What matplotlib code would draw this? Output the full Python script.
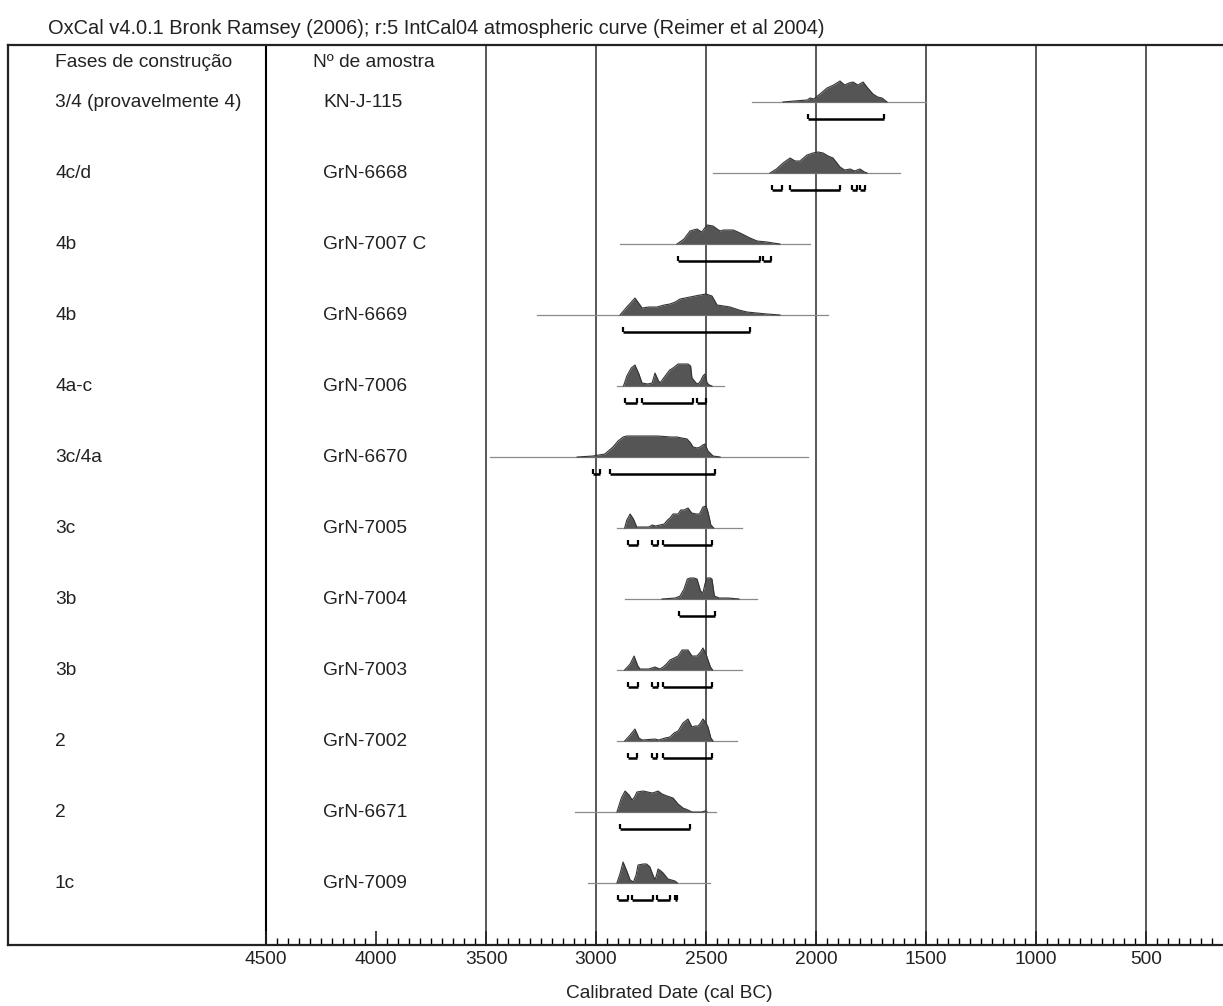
import matplotlib
matplotlib.use("Agg")
import matplotlib.pyplot as plt
import matplotlib.transforms as mtransforms
from matplotlib.ticker import FixedLocator

plt.rcParams['font.family'] = ['Liberation Sans', 'DejaVu Sans']

# labels of each row
phases = ["3/4 (provavelmente 4)", "4c/d", "4b", "4b", "4a-c", "3c/4a",
          "3c", "3b", "3b", "2", "2", "1c"]
samples = ["KN-J-115", "GrN-6668", "GrN-7007 C", "GrN-6669", "GrN-7006",
           "GrN-6670", "GrN-7005", "GrN-7004", "GrN-7003", "GrN-7002",
           "GrN-6671", "GrN-7009"]

# calibrated probability curves (cal BC, relative probability)
dates_1 = [2150, 2100, 2040, 2027, 2010, 1982, 1950, 1920, 1891, 1870, 1850, 1832,
           1810, 1786, 1765, 1741, 1720, 1700, 1677]
dens_1 = [0, 1, 2, 4, 3, 8, 14, 17, 21, 17, 19, 20, 17, 20, 14, 8, 5, 4, 0]

dates_2 = [2209, 2180, 2150, 2118, 2095, 2073, 2041, 2014, 1990, 1968, 1945, 1923,
           1905, 1891, 1870, 1845, 1825, 1800, 1780, 1768]
dens_2 = [0, 4, 10, 15, 12, 12, 18, 20, 21, 20, 17, 15, 10, 6, 3, 4, 2, 4, 1, 0]

dates_3 = [2632, 2600, 2573, 2541, 2520, 2495, 2468, 2450, 2436, 2420, 2405, 2377,
           2355, 2336, 2300, 2268, 2223, 2195, 2164]
dens_3 = [0, 5, 13, 15, 12, 19, 18, 15, 13, 14, 14, 14, 12, 10, 6, 3, 2, 1, 0]

dates_4 = [2891, 2860, 2823, 2800, 2791, 2760, 2723, 2690, 2664, 2640, 2618, 2595,
           2573, 2550, 2527, 2500, 2473, 2460, 2450, 2420, 2391, 2350, 2314, 2270,
           2223, 2164]
dens_4 = [0, 8, 17, 10, 7, 8, 8, 10, 11, 13, 16, 17, 18, 19, 20, 21, 19, 14, 10, 9,
          8, 5, 3, 2, 1, 0]

dates_5 = [2875, 2860, 2840, 2823, 2805, 2791, 2765, 2745, 2732, 2718, 2709, 2686,
           2665, 2650, 2627, 2600, 2582, 2570, 2564, 2545, 2536, 2525, 2514, 2505,
           2495, 2485, 2473]
dens_5 = [0, 10, 18, 21, 12, 3, 2, 3, 13, 6, 3, 10, 16, 18, 22, 22, 22, 20, 8, 3, 2,
          5, 10, 12, 3, 1, 0]

dates_6 = [3086, 3014, 2960, 2923, 2900, 2877, 2860, 2832, 2780, 2720, 2660, 2632,
           2610, 2586, 2570, 2559, 2540, 2527, 2515, 2505, 2491, 2468, 2436]
dens_6 = [0, 1, 3, 10, 16, 20, 21, 21, 21, 21, 20, 20, 19, 18, 14, 10, 9, 10, 12, 13,
          6, 1, 0]

dates_7 = [2870, 2860, 2845, 2830, 2815, 2790, 2760, 2745, 2730, 2710, 2690, 2675,
           2664, 2650, 2627, 2615, 2600, 2582, 2565, 2545, 2530, 2514, 2500, 2491,
           2478, 2465]
dens_7 = [0, 8, 14, 9, 1, 1, 1, 3, 2, 3, 4, 8, 10, 14, 14, 18, 18, 20, 15, 14, 14, 21,
          22, 16, 3, 0]

dates_8 = [2700, 2640, 2618, 2600, 2585, 2573, 2555, 2541, 2525, 2514, 2505, 2495,
           2480, 2473, 2462, 2440, 2400, 2350]
dens_8 = [0, 1, 3, 10, 20, 21, 21, 20, 8, 6, 15, 21, 21, 20, 3, 1, 1, 0]

dates_9 = [2870, 2845, 2827, 2810, 2800, 2760, 2732, 2710, 2695, 2680, 2664, 2645,
           2627, 2609, 2595, 2582, 2564, 2541, 2525, 2514, 2500, 2491, 2480, 2470]
dens_9 = [0, 6, 14, 4, 1, 1, 3, 1, 3, 6, 10, 12, 14, 20, 20, 20, 14, 14, 18, 22, 16,
          10, 3, 0]

dates_10 = [2870, 2845, 2823, 2805, 2790, 2732, 2715, 2686, 2664, 2645, 2627, 2605,
            2582, 2564, 2550, 2536, 2525, 2514, 2500, 2491, 2478, 2468]
dens_10 = [0, 6, 12, 3, 1, 2, 1, 3, 4, 8, 10, 18, 22, 14, 15, 15, 18, 22, 18, 14, 3, 0]

dates_11 = [2905, 2885, 2868, 2850, 2836, 2825, 2814, 2786, 2765, 2745, 2730, 2718,
            2700, 2677, 2650, 2627, 2605, 2582, 2564, 2540, 2520, 2505, 2495]
dens_11 = [0, 14, 21, 17, 12, 15, 20, 21, 20, 19, 20, 21, 18, 16, 14, 8, 4, 2, 0, 0,
           0, 1, 0]

dates_12 = [2905, 2890, 2877, 2860, 2845, 2830, 2818, 2809, 2786, 2770, 2755, 2745,
            2732, 2725, 2718, 2705, 2695, 2673, 2641, 2630]
dens_12 = [0, 10, 21, 12, 3, 1, 8, 18, 19, 19, 16, 10, 3, 8, 14, 12, 10, 4, 2, 0]

all_dates = [dates_1, dates_2, dates_3, dates_4, dates_5, dates_6,
             dates_7, dates_8, dates_9, dates_10, dates_11, dates_12]
all_dens = [dens_1, dens_2, dens_3, dens_4, dens_5, dens_6,
            dens_7, dens_8, dens_9, dens_10, dens_11, dens_12]

# extent of the plotted likelihood (thin line)
extents = [(2290, 1500), (2468, 1618), (2891, 2027), (3268, 1945), (2905, 2420),
           (3482, 2036), (2905, 2336), (2868, 2268), (2905, 2336), (2905, 2360),
           (3095, 2455), (3036, 2482)]

# 95.4% ranges
ranges = [
    [(2036, 1691)],
    [(2200, 2155), (2118, 1891), (1836, 1814), (1800, 1777)],
    [(2627, 2255), (2241, 2205)],
    [(2877, 2300)],
    [(2868, 2815), (2790, 2560), (2540, 2500)],
    [(3014, 2982), (2936, 2459)],
    [(2855, 2809), (2745, 2718), (2695, 2473)],
    [(2623, 2459)],
    [(2855, 2809), (2745, 2718), (2695, 2473)],
    [(2855, 2814), (2745, 2723), (2695, 2473)],
    [(2891, 2573)],
    [(2900, 2855), (2836, 2741), (2723, 2664), (2641, 2632)],
]

grid_dates = [4500, 3500, 3000, 2500, 2000, 1500, 1000, 500]
tick_dates = [4500, 4000, 3500, 3000, 2500, 2000, 1500, 1000, 500]

W, H = 1223, 1006
fig = plt.figure(figsize=(W / 100, H / 100), dpi=100)
ax = fig.add_axes([8 / W, (H - 945) / H, (W - 8) / W, 900 / H])
ax.set_xlim(5673, 150)
ax.set_ylim(11.873, -0.803)

dens_scale = 1 / 71
bar_off = 0.235
cap = 0.065

for i in range(len(samples)):
    ax.plot(extents[i], [i, i], color='#8a8a8a', lw=0.9, zorder=2)
    top = [i - d * dens_scale for d in all_dens[i]]
    ax.fill_between(all_dates[i], i, top, color='#555555', lw=0, zorder=3)
    ax.plot(all_dates[i], top, color='#333333', lw=0.8, zorder=4)
    yb = i + bar_off
    for a, b in ranges[i]:
        ax.plot([a, b], [yb, yb], color='black', lw=1.8, zorder=4,
                solid_capstyle='butt')
        ax.vlines([a, b], yb - cap, yb, color='black', lw=1.6, zorder=4)

for g in grid_dates:
    if g == 4500:
        ax.axvline(g, color='black', lw=1.5, zorder=1)
    else:
        ax.axvline(g, color='#4a4a4a', lw=1.3, zorder=1)

tr = mtransforms.blended_transform_factory(ax.transAxes, ax.transData)
fs = 13.8
ax.text(47 / 1215, -0.56, "Fases de construção", transform=tr, fontsize=fs,
        va='center', ha='left', color='#222222')
ax.text(305 / 1215, -0.56, "Nº de amostra", transform=tr, fontsize=fs,
        va='center', ha='left', color='#222222')
for i in range(len(samples)):
    ax.text(47 / 1215, i, phases[i], transform=tr, fontsize=fs,
            va='center', ha='left', color='#222222')
    ax.text(315 / 1215, i, samples[i], transform=tr, fontsize=fs,
            va='center', ha='left', color='#222222')

ax.xaxis.set_major_locator(FixedLocator(tick_dates))
ax.xaxis.set_minor_locator(FixedLocator(list(range(4500, 150, -50))))
ax.set_xticklabels([str(t) for t in tick_dates])
ax.tick_params(axis='x', which='major', direction='in', length=10, width=1.2,
               labelsize=fs, pad=4, colors='#222222')
ax.tick_params(axis='x', which='minor', direction='in', length=5, width=1)
ax.set_yticks([])
for s in ['left', 'top', 'bottom']:
    ax.spines[s].set_linewidth(1.6)
    ax.spines[s].set_color('#222222')
ax.spines['right'].set_visible(False)

fig.text(48 / W, 1 - 28 / H,
         "OxCal v4.0.1 Bronk Ramsey (2006); r:5 IntCal04 atmospheric curve (Reimer et al 2004)",
         fontsize=14.4, ha='left', va='center', color='#222222')
fig.text(669 / W, 1 - 993 / H, "Calibrated Date (cal BC)", fontsize=fs,
         ha='center', va='center', color='#222222')

fig.savefig("out.png", dpi=100)
